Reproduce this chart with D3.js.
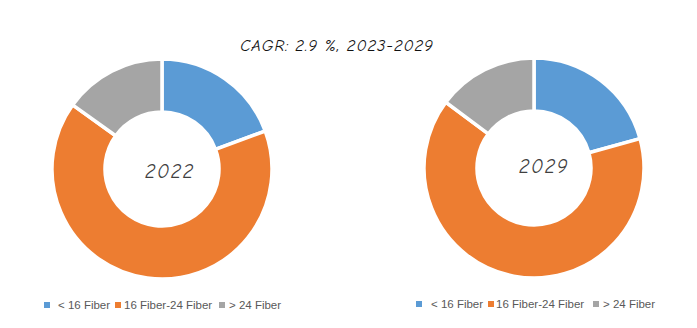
<!DOCTYPE html>
<html><head><meta charset="utf-8">
<script src="https://cdn.jsdelivr.net/npm/d3@7"></script>
<style>body{margin:0;background:#fff}</style>
</head><body>
<svg id="c" width="697" height="328"></svg>
<script>
const categories = ["< 16 Fiber", "16 Fiber-24 Fiber", "> 24 Fiber"];
const years = ["2022", "2029"];
const values2022 = [19.4, 65.5, 15.1];
const values2029 = [20.7, 64.5, 14.8];
const title = "CAGR: 2.9 %, 2023-2029";
const colors = ["#5b9bd5", "#ed7d31", "#a5a5a5"];

const svg = d3.select("#c");
const color = d3.scaleOrdinal().domain(categories).range(colors);
const pie = d3.pie().sort(null).value(d => d.v);
const arc = d3.arc().innerRadius(57).outerRadius(110);
const hand = "'Segoe Print','Comic Sans MS','Comic Neue','DejaVu Sans',sans-serif";

svg.append("text").attr("x", 337).attr("y", 51).attr("text-anchor", "middle")
  .attr("font-family", hand).attr("font-style", "italic").attr("font-size", 16.5)
  .attr("letter-spacing", 0.9).attr("fill", "#111").text(title);

const charts = [
  {year: years[0], vals: values2022, cx: 162, cy: 169, lx: 44, tx: 8, ty: 9},
  {year: years[1], vals: values2029, cx: 534, cy: 168, lx: 416, tx: 10, ty: 5}
];
charts.forEach(ch => {
  const g = svg.append("g").attr("transform", `translate(${ch.cx},${ch.cy})`);
  const data = categories.map((c, i) => ({c, v: ch.vals[i]}));
  g.selectAll("path").data(pie(data)).join("path")
    .attr("d", arc).attr("fill", d => color(d.data.c))
    .attr("stroke", "#fff").attr("stroke-width", 3.5);
  g.append("text").attr("x", ch.tx).attr("y", ch.ty).attr("text-anchor", "middle")
    .attr("font-family", hand).attr("font-style", "italic").attr("font-size", 20)
    .attr("letter-spacing", 1.5).attr("fill", "#404040").text(ch.year);
  // legend
  const offs = ch.lx === 44 ? [[0, 14], [71, 80], [175, 185]] : [[0, 15], [72, 80], [177, 187]];
  const lg = svg.append("g").attr("transform", `translate(${ch.lx},${ch.lx === 44 ? 305 : 304})`);
  categories.forEach((c, i) => {
    lg.append("rect").attr("x", offs[i][0]).attr("y", -3).attr("width", 6).attr("height", 6).attr("fill", color(c));
    lg.append("text").attr("x", offs[i][1]).attr("y", 4).attr("font-family", "'Liberation Sans',Arial,sans-serif")
      .attr("font-size", 11.5).attr("fill", "#595959").text(c);
  });
});
</script>
</body></html>
